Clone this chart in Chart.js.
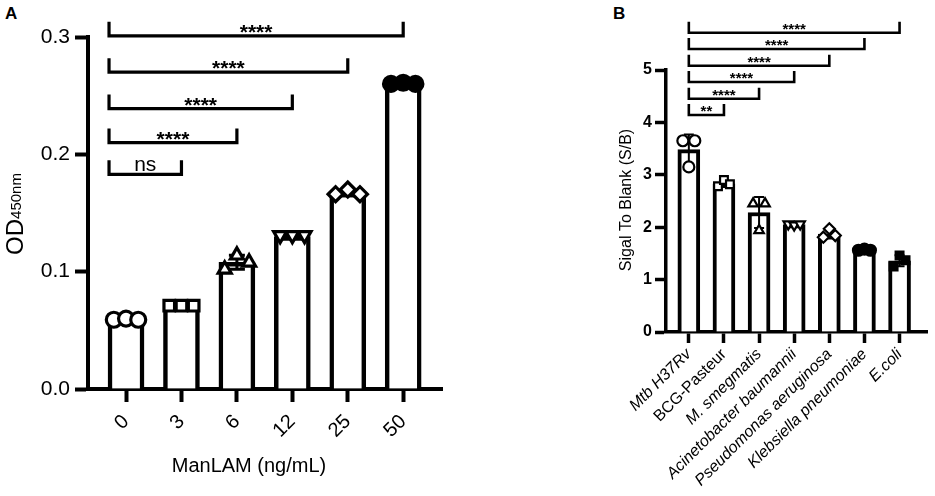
<!DOCTYPE html>
<html>
<head>
<meta charset="utf-8">
<title>ManLAM ELISA</title>
<script src="https://cdn.jsdelivr.net/npm/chart.js@4.4.0/dist/chart.umd.min.js"></script>
<style>
  body { margin: 0; background: #fff; }
  #page { position: relative; width: 935px; height: 496px; overflow: hidden; font-family: 'Liberation Sans', Arial, sans-serif; }
  canvas { position: absolute; top: 0; }
  #chartA { left: 0; }
  #chartB { left: 590px; }
  .tag { position: absolute; font-weight: bold; font-size: 17px; line-height: 1; }
</style>
</head>
<body>
<div id="page">
  <div class="tag" style="left:5px;top:5px">A</div>
  <div class="tag" style="left:613px;top:5px">B</div>
  <canvas id="chartA" width="460" height="496"></canvas>
  <canvas id="chartB" width="345" height="496"></canvas>
</div>
<script>
Chart.defaults.font.family = "'Liberation Sans', Arial, sans-serif";
Chart.defaults.color = '#000';

// panel A - OD450 vs ManLAM concentration
const doseLabels = ['0', '3', '6', '12', '25', '50'];
const odMean = [0.059, 0.071, 0.108, 0.130, 0.167, 0.260];
const odRep1 = [0.059, 0.071, 0.102, 0.131, 0.166, 0.260];
const odRep2 = [0.060, 0.071, 0.114, 0.131, 0.170, 0.261];
const odRep3 = [0.059, 0.071, 0.108, 0.131, 0.166, 0.260];
const odTicks = [0, 0.1, 0.2, 0.3];
const odSigTo = [1, 2, 3, 4, 5];
const odSigAt = [0.183, 0.210, 0.239, 0.270, 0.301];
const odSigText = ['ns', '****', '****', '****', '****'];

// panel B - signal to blank per strain
const strainLabels = ['Mtb H37Rv', 'BCG-Pasteur', 'M. smegmatis', 'Acinetobacter baumannii',
  'Pseudomonas aeruginosa', 'Klebsiella pneumoniae', 'E.coli'];
const sbMean = [3.48, 2.83, 2.28, 2.05, 1.87, 1.57, 1.36];
const sbRep1 = [3.65, 2.78, 2.45, 2.06, 1.81, 1.56, 1.25];
const sbRep2 = [3.15, 2.90, 1.94, 2.04, 1.97, 1.58, 1.46];
const sbRep3 = [3.65, 2.82, 2.45, 2.06, 1.84, 1.56, 1.37];
const sbTicks = [0, 1, 2, 3, 4, 5];
const sbSigTo = [1, 2, 3, 4, 5, 6];
const sbSigAt = [4.14, 4.45, 4.77, 5.08, 5.40, 5.71];
const sbSigText = ['**', '****', '****', '****', '****', '****'];

const markers = [
  { style: 'circle', fill: '#fff' },
  { style: 'rect', fill: '#fff' },
  { style: 'triangle', fill: '#fff' },
  { style: 'triangle', rot: 180, fill: '#fff' },
  { style: 'rectRot', fill: '#fff' },
  { style: 'circle', fill: '#000' },
  { style: 'rect', fill: '#000' }
];

const FONT = "'Liberation Sans', Arial, sans-serif";

function sd(vals) {
  const m = vals.reduce((a, b) => a + b, 0) / vals.length;
  return Math.sqrt(vals.reduce((a, b) => a + (b - m) ** 2, 0) / (vals.length - 1));
}

function makePanel(id, s) {
  const reps = [s.rep1, s.rep2, s.rep3];

  const datasets = [{
    type: 'bar',
    data: s.mean.map((v, i) => ({ x: i, y: v })),
    backgroundColor: '#fff',
    borderColor: '#000',
    borderWidth: s.barLine,
    borderSkipped: 'start',
    barThickness: s.barW,
    order: 1
  }];
  s.labels.forEach((_, i) => {
    const m = markers[i];
    datasets.push({
      type: 'scatter',
      data: reps.map((r, k) => ({ x: i + s.jitter[k], y: r[i] })),
      pointStyle: m.style,
      pointRotation: m.rot || 0,
      pointRadius: s.dot,
      pointBorderWidth: s.dotLine,
      pointBackgroundColor: m.fill,
      pointBorderColor: '#000',
      clip: false,
      order: 0
    });
  });

  const extras = {
    id: 'extras',
    // error bars go between the bars and the dots
    afterDatasetDraw(chart, args) {
      if (args.index !== 0) return;
      const { ctx, scales: { x, y } } = chart;
      ctx.save();
      ctx.strokeStyle = '#000';
      ctx.lineWidth = s.errLine;
      s.mean.forEach((m, i) => {
        const e = sd(reps.map(r => r[i]));
        const px = x.getPixelForValue(i);
        const top = y.getPixelForValue(m + e), bot = y.getPixelForValue(m - e);
        ctx.beginPath();
        ctx.moveTo(px, top); ctx.lineTo(px, bot);
        ctx.moveTo(px - s.cap, top); ctx.lineTo(px + s.cap, top);
        ctx.moveTo(px - s.cap, bot); ctx.lineTo(px + s.cap, bot);
        ctx.stroke();
      });
      ctx.restore();
    },
    afterDraw(chart) {
      const { ctx, scales: { x, y } } = chart;
      ctx.save();
      ctx.strokeStyle = '#000';
      ctx.fillStyle = '#000';
      ctx.lineWidth = s.sigLine;
      s.sigTo.forEach((to, k) => {
        const x0 = x.getPixelForValue(0) - s.sigLeft;
        const x1 = x.getPixelForValue(to);
        const py = y.getPixelForValue(s.sigAt[k]);
        ctx.beginPath();
        ctx.moveTo(x0, py - s.sigTick);
        ctx.lineTo(x0, py);
        ctx.lineTo(x1, py);
        ctx.lineTo(x1, py - s.sigTick);
        ctx.stroke();
        const txt = s.sigText[k];
        const star = txt[0] === '*';
        ctx.font = star ? `bold ${s.starSize}px ${FONT}` : `${s.nsSize}px ${FONT}`;
        ctx.textAlign = 'center';
        ctx.textBaseline = 'alphabetic';
        ctx.fillText(txt, (x0 + x1) / 2, star ? py + s.starDrop : py - 3);
      });
      s.titles(ctx);
      ctx.restore();
    }
  };

  return new Chart(document.getElementById(id), {
    data: { datasets },
    options: {
      responsive: false,
      animation: false,
      layout: { padding: { top: s.padTop, right: s.padRight, left: 0, bottom: 0 } },
      plugins: { legend: { display: false }, tooltip: { enabled: false } },
      scales: {
        x: {
          type: 'linear', min: s.xMin, max: s.xMax, offset: false,
          afterBuildTicks: sc => { sc.ticks = s.labels.map((_, i) => ({ value: i })); },
          afterFit: sc => { sc.height = s.xH; },
          ticks: { autoSkip: false, minRotation: 45, maxRotation: 45, padding: s.xPad,
            font: s.xFont, callback: v => s.labels[v] },
          grid: { drawOnChartArea: false, drawTicks: true, tickLength: s.tick, tickWidth: s.axisLine,
            tickColor: '#000', offset: false },
          border: { color: '#000', width: s.axisLine }
        },
        y: {
          min: 0, max: s.yMax,
          afterBuildTicks: sc => { sc.ticks = s.yTicks.map(v => ({ value: v })); },
          afterFit: sc => { sc.width = s.yW; },
          ticks: { padding: s.yPad, font: s.yFont, callback: v => s.yFmt(v) },
          grid: { drawOnChartArea: false, drawTicks: true, tickLength: s.tick, tickWidth: s.axisLine,
            tickColor: '#000' },
          border: { color: '#000', width: s.axisLine }
        }
      }
    },
    plugins: [extras]
  });
}

makePanel('chartA', {
  labels: doseLabels, mean: odMean, rep1: odRep1, rep2: odRep2, rep3: odRep3,
  yTicks: odTicks, yMax: 0.3, yFmt: v => v.toFixed(1),
  sigTo: odSigTo, sigAt: odSigAt, sigText: odSigText,
  xMin: -0.686, xMax: 5.70, padTop: 37, padRight: 18, xH: 107, yW: 88,
  barW: 36, barLine: 4.5, axisLine: 4, tick: 13, xPad: 8, yPad: 5,
  jitter: [-0.22, 0, 0.22], dot: 7.5, dotLine: 3.2, errLine: 3, cap: 8,
  sigLine: 3.2, sigTick: 14, sigLeft: 17, starSize: 21, starDrop: 3, nsSize: 21,
  xFont: { size: 20 }, yFont: { size: 21 },
  titles(ctx) {
    ctx.textAlign = 'left';
    ctx.textBaseline = 'alphabetic';
    ctx.font = `24px ${FONT}`;
    const w1 = ctx.measureText('OD').width;
    ctx.font = `15px ${FONT}`;
    const w2 = ctx.measureText('450nm').width;
    ctx.translate(23, 214);
    ctx.rotate(-Math.PI / 2);
    const u0 = -(w1 + w2) / 2;
    ctx.font = `24px ${FONT}`;
    ctx.fillText('OD', u0, 0);
    ctx.font = `15px ${FONT}`;
    ctx.fillText('450nm', u0 + w1, -2);
    ctx.setTransform(1, 0, 0, 1, 0, 0);
    ctx.font = `20px ${FONT}`;
    ctx.textAlign = 'center';
    ctx.textBaseline = 'middle';
    ctx.fillText('ManLAM (ng/mL)', 249, 466);
  }
});

makePanel('chartB', {
  labels: strainLabels, mean: sbMean, rep1: sbRep1, rep2: sbRep2, rep3: sbRep3,
  yTicks: sbTicks, yMax: 5, yFmt: v => String(v),
  sigTo: sbSigTo, sigAt: sbSigAt, sigText: sbSigText,
  xMin: -0.65, xMax: 6.79, padTop: 70, padRight: 5, xH: 164, yW: 76,
  barW: 22, barLine: 4, axisLine: 3.5, tick: 11, xPad: 2, yPad: 3,
  jitter: [-0.17, 0, 0.17], dot: 5.5, dotLine: 2.2, errLine: 2, cap: 5,
  sigLine: 2.6, sigTick: 11, sigLeft: 0, starSize: 15, starDrop: 1, nsSize: 15,
  xFont: c => ({ size: 16, style: c.index === 1 ? 'normal' : 'italic' }),
  yFont: { size: 16, weight: 'bold' },
  titles(ctx) {
    ctx.translate(37, 200);
    ctx.rotate(-Math.PI / 2);
    ctx.font = `16px ${FONT}`;
    ctx.textAlign = 'center';
    ctx.textBaseline = 'middle';
    ctx.fillText('Sigal To Blank (S/B)', 0, 0);
    ctx.setTransform(1, 0, 0, 1, 0, 0);
  }
});
</script>
</body>
</html>
